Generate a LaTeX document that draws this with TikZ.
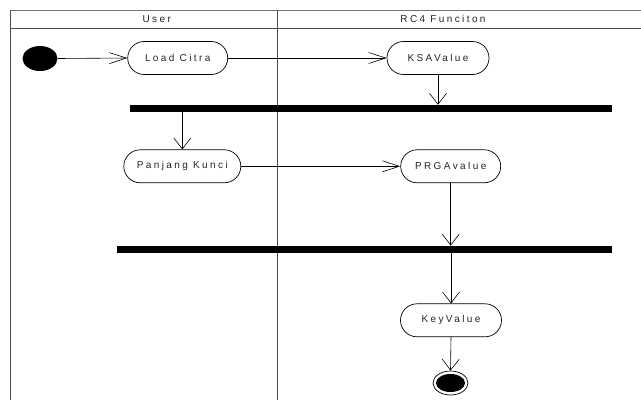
\documentclass[tikz,border=0pt]{standalone}
\usepackage{fontspec}
\setmainfont{Liberation Sans}
\newfontfamily\lblfont[LetterSpace=24]{Liberation Sans}
\usetikzlibrary{arrows.meta,shapes.geometric,shapes.misc}
\begin{document}
\begin{tikzpicture}[x=1pt,y=-1pt,
  lane/.style={draw=black!70,line width=0.9pt},
  lbl/.style={font=\lblfont\fontsize{10}{12}\selectfont,text=black!85},
  action/.style={draw=black,line width=0.7pt,rounded rectangle,fill=white,
    minimum height=33pt,inner xsep=0pt,lbl},
  syncbar/.style={fill=black,draw=none,rectangle,minimum height=7pt,inner sep=0pt},
  flow/.style={draw=black,line width=0.6pt},
  hflow/.style={flow,-{Straight Barb[length=17pt,width=11pt,line width=0.6pt]}},
  vflow/.style={flow,-{Straight Barb[length=11pt,width=17pt,line width=0.6pt]}}]
\useasboundingbox (0,0) rectangle (641,400);
\fill[white] (0,0) rectangle (641,400);

% swimlane frame
\coordinate (tl) at (10,10);
\coordinate (tr) at (641,10);
\coordinate (hl) at (10,28);
\coordinate (hr) at (641,28);
\coordinate (bl) at (10,400);
\coordinate (dt) at (277,10);
\coordinate (db) at (277,400);
\draw[lane,draw=black!55] (tl) -- (tr);
\draw[lane] (hl) -- (hr);
\draw[lane] (tl) -- (bl);
\draw[lane] (dt) -- (db);
\node[lbl] (userlane) at (156.7,19) {User};
\node[lbl] (rc4lane) at (443,19) {RC4 Funciton};

% activities
\node[ellipse,fill=black,minimum width=35pt,minimum height=25pt,inner sep=0pt] (start) at (40,58.5) {};
\node[action,minimum width=100pt] (load) at (177.7,58) {Load Citra};
\node[action,minimum width=102pt] (ksa) at (438,58) {KSAValue};
\node[syncbar,minimum width=482pt] (bar1) at (371,108.5) {};
\node[action,minimum width=117pt] (panjang) at (182.3,166.3) {Panjang Kunci};
\node[action,minimum width=100pt] (prga) at (450.7,166.3) {PRGAvalue};
\node[syncbar,minimum width=495pt] (bar2) at (364.2,249.3) {};
\node[action,minimum width=101pt] (key) at (451,320.3) {KeyValue};
\node[ellipse,draw=black,line width=0.7pt,fill=white,minimum width=35pt,minimum height=24pt,inner sep=0pt] (stop) at (450.5,383) {};
\node[ellipse,fill=black,minimum width=29pt,minimum height=18pt,inner sep=0pt] (stopdot) at (stop.center) {};

% control flow
\draw[hflow] (start.east) -- (load.west);
\draw[hflow] (load.east) -- (ksa.west);
\draw[vflow] (ksa.south) -- (ksa.south |- bar1.north);
\draw[vflow] (bar1.south -| panjang.north) -- (panjang.north);
\draw[hflow] (panjang.east) -- (prga.west);
\draw[vflow] (prga.south) -- (prga.south |- bar2.north);
\draw[vflow] (bar2.south -| key.north) -- (key.north);
\draw[vflow] (key.south) -- (stop.north);
\end{tikzpicture}
\end{document}
